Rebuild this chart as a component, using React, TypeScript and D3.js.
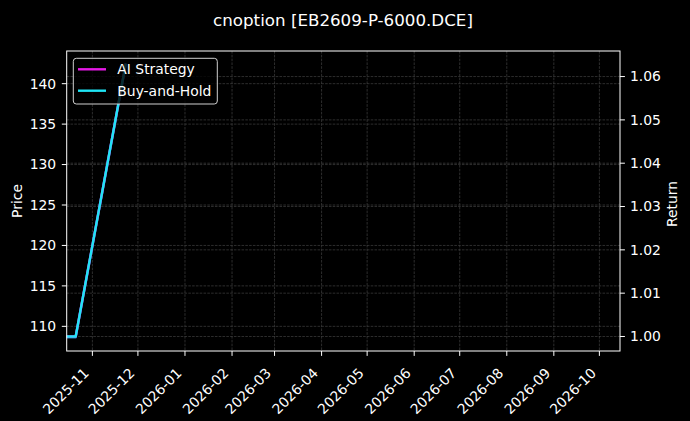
import * as d3 from "d3";

const title = "cnoption [EB2609-P-6000.DCE]";
const seriesNames = ["AI Strategy", "Buy-and-Hold"];
const seriesColors = ["#e619e6", "#1fe5f5"];

// observation dates and values
const dates = ["2025-10-14", "2025-10-21", "2025-11-23"];
const priceValues = [108.64, 108.64, 142.36];
const strategyReturn = [1.0, 1.0, 1.063];
const buyHoldReturn = [1.0, 1.0, 1.063];

const xDomain = ["2025-10-15T02:00", "2026-10-14T14:00"];
const priceDomain = [106.95, 144.04];
const returnDomain = [0.99665, 1.0659];
const priceTicks = [110, 115, 120, 125, 130, 135, 140];
const returnTicks = [1.0, 1.01, 1.02, 1.03, 1.04, 1.05, 1.06];

export default function App() {
  const width = 690;
  const height = 421;
  const margin = { top: 51, right: 70, bottom: 70, left: 66.7 };
  const x0 = margin.left;
  const x1 = width - margin.right;
  const y0 = margin.top;
  const y1 = height - margin.bottom;
  const font = "'DejaVu Sans', sans-serif";
  const fg = "#ffffff";
  const gridColor = "#404040";

  const parse = (s: string) => new Date(s);
  const x = d3.scaleTime().domain(xDomain.map(parse)).range([x0, x1]);
  const yPrice = d3.scaleLinear().domain(priceDomain).range([y1, y0]);
  const yRet = d3.scaleLinear().domain(returnDomain).range([y1, y0]);
  const monthTicks = d3.timeMonth.range(new Date("2025-11-01T00:00"), new Date("2026-10-02T00:00"));
  const fmtMonth = d3.timeFormat("%Y-%m");

  const priceLine = d3
    .line<number>()
    .x((_, i) => x(parse(dates[i])))
    .y((v) => yPrice(v));
  const retLine = d3
    .line<number>()
    .x((_, i) => x(parse(dates[i])))
    .y((v) => yRet(v));

  return (
    <svg
      width={width}
      height={height}
      style={{ position: "absolute", left: 0, top: 0, background: "#000" }}
      fontFamily={font}
    >
      <rect width={width} height={height} fill="#000" />
      <defs>
        <clipPath id="plot">
          <rect x={x0} y={y0} width={x1 - x0} height={y1 - y0} />
        </clipPath>
      </defs>
      <text x={343} y={25.5} textAnchor="middle" fill={fg} fontSize={16.7}>
        {title}
      </text>

      {/* grid */}
      {monthTicks.map((t) => (
        <line key={`gx-${t.getTime()}`} x1={x(t)} x2={x(t)} y1={y0} y2={y1} stroke={gridColor} strokeWidth={0.7} strokeDasharray="2.6,1.2" />
      ))}
      {priceTicks.map((t) => (
        <line key={`gp-${t}`} x1={x0} x2={x1} y1={yPrice(t)} y2={yPrice(t)} stroke={gridColor} strokeWidth={0.7} strokeDasharray="2.6,1.2" />
      ))}
      {returnTicks.map((t) => (
        <line key={`gr-${t}`} x1={x0} x2={x1} y1={yRet(t)} y2={yRet(t)} stroke={gridColor} strokeWidth={0.7} strokeDasharray="2.6,1.2" />
      ))}

      {/* lines */}
      <g clipPath="url(#plot)" fill="none" strokeWidth={2.4} strokeLinejoin="round">
        <path d={priceLine(priceValues) ?? ""} stroke="#1f77b4" />
        <path d={retLine(strategyReturn) ?? ""} stroke={seriesColors[0]} />
        <path d={retLine(buyHoldReturn) ?? ""} stroke={seriesColors[1]} />
      </g>

      {/* spines */}
      <rect x={x0} y={y0} width={x1 - x0} height={y1 - y0} fill="none" stroke={fg} strokeWidth={1} />

      {/* x axis */}
      {monthTicks.map((t) => (
        <g key={`xt-${t.getTime()}`}>
          <line x1={x(t)} x2={x(t)} y1={y1} y2={y1 + 4.9} stroke={fg} />
          <text
            transform={`translate(${x(t) - 2.5}, ${y1 + 23}) rotate(-45)`}
            textAnchor="end"
            fill={fg}
            fontSize={13.9}
          >
            {fmtMonth(t)}
          </text>
        </g>
      ))}

      {/* left axis */}
      {priceTicks.map((t) => (
        <g key={`yp-${t}`}>
          <line x1={x0 - 4.9} x2={x0} y1={yPrice(t)} y2={yPrice(t)} stroke={fg} />
          <text x={x0 - 10.5} y={yPrice(t)} dy="0.35em" textAnchor="end" fill={fg} fontSize={13.9}>
            {t}
          </text>
        </g>
      ))}
      <text transform={`translate(21.5, 201) rotate(-90)`} textAnchor="middle" fill={fg} fontSize={13.9}>
        Price
      </text>

      {/* right axis */}
      {returnTicks.map((t) => (
        <g key={`yr-${t}`}>
          <line x1={x1} x2={x1 + 4.9} y1={yRet(t)} y2={yRet(t)} stroke={fg} />
          <text x={x1 + 10} y={yRet(t)} dy="0.35em" textAnchor="start" fill={fg} fontSize={13.9}>
            {d3.format(".2f")(t)}
          </text>
        </g>
      ))}
      <text transform={`translate(677, 204) rotate(-90)`} textAnchor="middle" fill={fg} fontSize={13.9}>
        Return
      </text>

      {/* legend */}
      <g>
        <rect x={73.3} y={58.3} width={144} height={45.7} rx={3} fill="#000" fillOpacity={0.8} stroke="#d0d0d0" strokeWidth={1} />
        {seriesNames.map((name, i) => (
          <g key={name} transform={`translate(0, ${69.3 + i * 21.4})`}>
            <line x1={78} x2={106} y1={0} y2={0} stroke={seriesColors[i]} strokeWidth={2.4} />
            <text x={117.3} y={0} dy="0.35em" fill={fg} fontSize={13.9}>
              {name}
            </text>
          </g>
        ))}
      </g>
    </svg>
  );
}
